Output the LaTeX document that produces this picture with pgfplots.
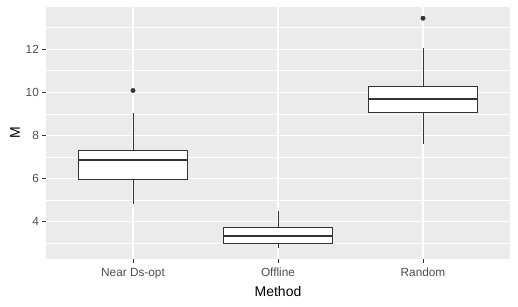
\documentclass[border=0pt]{standalone}
\usepackage{pgfplots}
\pgfplotsset{compat=1.18}
\usepgfplotslibrary{statistics}
\usepackage{fontspec}
\setmainfont{Liberation Sans}
\definecolor{panelbg}{HTML}{EBEBEB}
\definecolor{tickc}{HTML}{4D4D4D}
\definecolor{boxc}{HTML}{333333}
\begin{document}
\begin{tikzpicture}
\begin{axis}[
  scale only axis,
  width=464pt, height=252pt,
  xmin=0.4, xmax=3.6,
  ymin=2.27, ymax=13.95,
  axis background/.style={fill=panelbg},
  axis line style={draw=none},
  xtick={1,2,3},
  xticklabels={Near Ds-opt,Offline,Random},
  ytick={4,6,8,10,12},
  minor ytick={3,5,7,9,11,13},
  grid=both,
  major grid style={white, line width=1.1pt},
  minor grid style={white, line width=0.55pt},
  tick align=outside,
  major tick length=3.6pt,
  minor tick length=0pt,
  tick style={boxc, line width=0.8pt},
  xtick pos=bottom, ytick pos=left,
  ticklabel style={font=\fontsize{11.8}{13}\selectfont, text=tickc},
  xticklabel style={yshift=-2pt},
  /pgf/number format/assume math mode=true,
  xlabel={Method}, ylabel={M},
  label style={font=\fontsize{14}{16}\selectfont, text=black},
  xlabel style={yshift=-1pt},
  ylabel style={yshift=-1pt},
  boxplot/draw direction=y,
  boxplot/box extend=0.75,
  boxplot/whisker extend=0,
  boxplot/every box/.style={draw=boxc, fill=white, line width=0.9pt},
  boxplot/every whisker/.style={draw=boxc, line width=0.8pt},
  boxplot/every median/.style={draw=boxc, line width=2pt},
  clip=false,
]
\addplot[boxplot prepared={draw position=1, lower whisker=4.82, lower quartile=5.94, median=6.88, upper quartile=7.29, upper whisker=9.06},
  mark=*, mark size=2.2pt, mark options={fill=boxc, draw=boxc}] coordinates {(1,10.08)};
\addplot[boxplot prepared={draw position=2, lower whisker=2.78, lower quartile=2.98, median=3.33, upper quartile=3.71, upper whisker=4.51}] coordinates {};
\addplot[boxplot prepared={draw position=3, lower whisker=7.60, lower quartile=9.06, median=9.69, upper quartile=10.29, upper whisker=12.03},
  mark=*, mark size=2.2pt, mark options={fill=boxc, draw=boxc}] coordinates {(3,13.43)};
\end{axis}
\pgfresetboundingbox
\useasboundingbox ([shift={(-46pt,-47pt)}]current axis.south west) rectangle ([shift={(8pt,7pt)}]current axis.north east);
\end{tikzpicture}
\end{document}
